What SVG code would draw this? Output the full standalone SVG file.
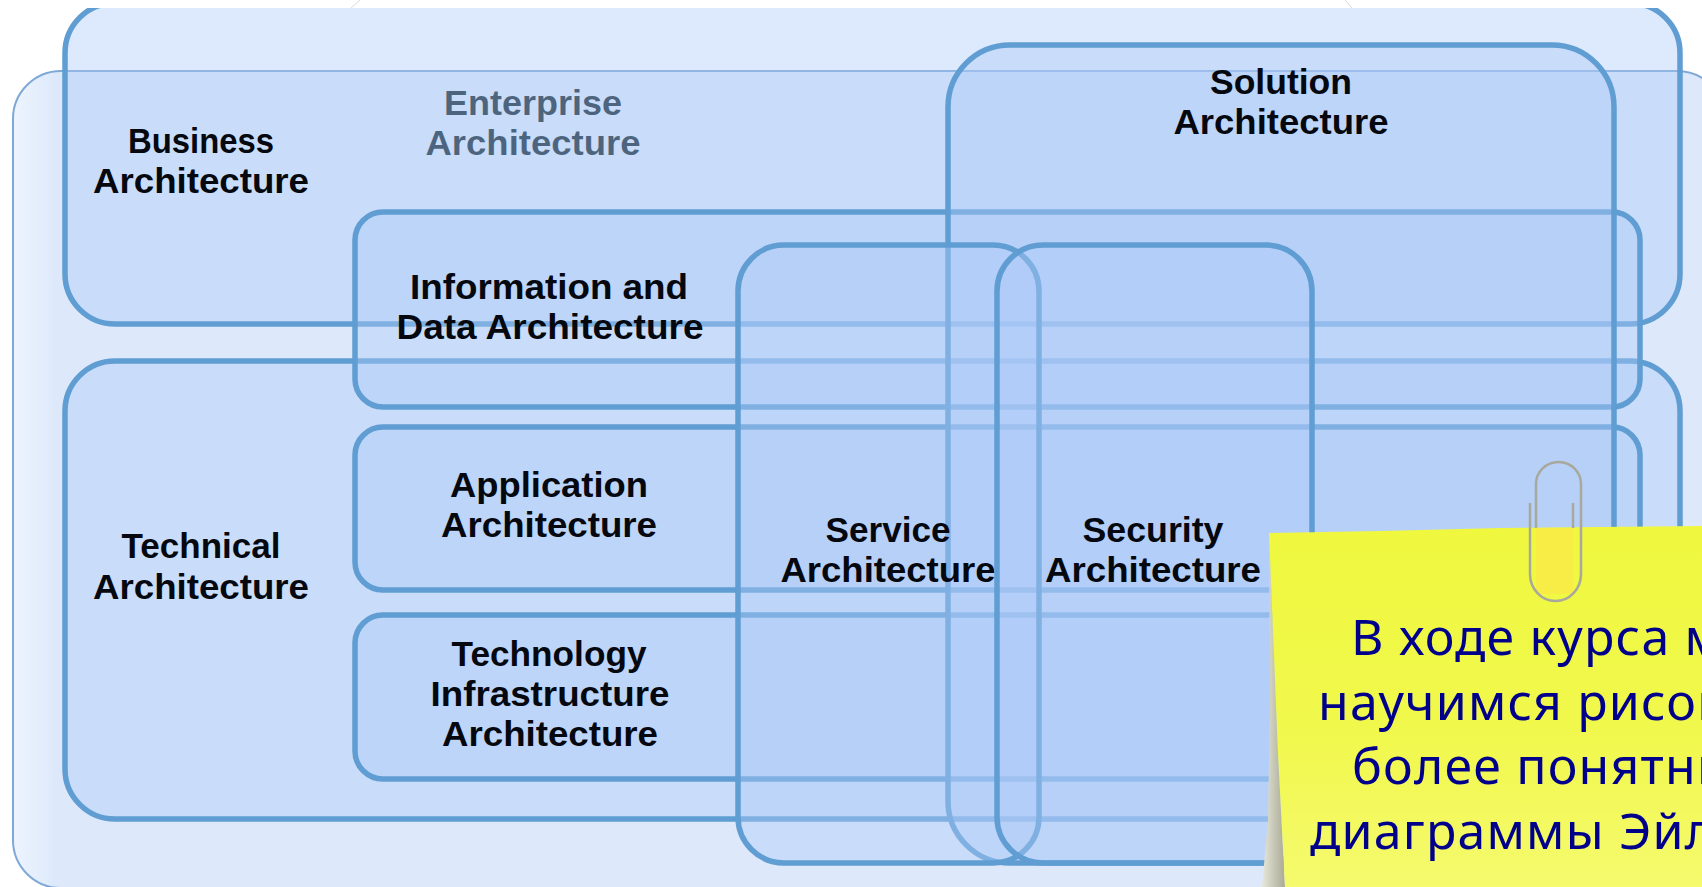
<svg xmlns="http://www.w3.org/2000/svg" width="1702" height="887" viewBox="0 0 1702 887">
<defs>
<style>
.b{fill:#aecbf8;fill-opacity:.42;stroke:#5f9dd2;stroke-width:5.500}
.t{font-family:"Liberation Sans",Arial,sans-serif;font-weight:700;font-size:35px;fill:#05080f;text-anchor:middle}
.note{font-family:"Noto Sans",sans-serif;font-size:50px;letter-spacing:1.200px;fill:#00008b}
.clip{fill:none;stroke:#a8a89c;stroke-width:2.500}
</style>
<linearGradient id="ent" x1="0" y1="0" x2="1" y2="0"><stop offset="0" stop-color="#edf4fe"/><stop offset=".025" stop-color="#dde9fb"/><stop offset="1" stop-color="#dde9fb"/></linearGradient>
<linearGradient id="yel" x1="0" y1="0" x2="0" y2="1"><stop offset="0" stop-color="#eff83e"/><stop offset=".6" stop-color="#f1f84e"/><stop offset="1" stop-color="#f5fa6e"/></linearGradient>
<linearGradient id="shade" x1="0" y1="0" x2="1" y2="0"><stop offset="0" stop-color="#e8e8da"/><stop offset="1" stop-color="#a9a995"/></linearGradient>
</defs>
<rect width="1702" height="887" fill="#fff"/>
<g id="enterprise">
<rect x="13" y="71" width="1712" height="817" rx="48" fill="url(#ent)" stroke="#7fa8d6" stroke-width="2"/>
<text class="t" x="533" y="115" textLength="178" lengthAdjust="spacingAndGlyphs" style="fill:#071a28">Enterprise</text>
<text class="t" x="533" y="155" textLength="215" lengthAdjust="spacingAndGlyphs" style="fill:#071a28">Architecture</text>
</g>
<g id="business">
<rect class="b" x="65" y="3" width="1615" height="321" rx="50"/>
<text class="t" x="201" y="153" textLength="146" lengthAdjust="spacingAndGlyphs">Business</text>
<text class="t" x="201" y="193" textLength="216" lengthAdjust="spacingAndGlyphs">Architecture</text>
</g>
<g id="technical">
<rect class="b" x="65" y="361" width="1615" height="458" rx="50"/>
<text class="t" x="201" y="558" textLength="159" lengthAdjust="spacingAndGlyphs">Technical</text>
<text class="t" x="201" y="599" textLength="216" lengthAdjust="spacingAndGlyphs">Architecture</text>
</g>
<g id="information">
<rect class="b" x="355" y="212" width="1285" height="195" rx="28"/>
<text class="t" x="549" y="299" textLength="278" lengthAdjust="spacingAndGlyphs">Information and</text>
<text class="t" x="550" y="339" textLength="307" lengthAdjust="spacingAndGlyphs">Data Architecture</text>
</g>
<g id="application">
<rect class="b" x="355" y="427" width="1285" height="163" rx="28"/>
<text class="t" x="549" y="497" textLength="198" lengthAdjust="spacingAndGlyphs">Application</text>
<text class="t" x="549" y="537" textLength="216" lengthAdjust="spacingAndGlyphs">Architecture</text>
</g>
<g id="technology">
<rect class="b" x="355" y="615" width="1285" height="164" rx="28"/>
<text class="t" x="549" y="666" textLength="195" lengthAdjust="spacingAndGlyphs">Technology</text>
<text class="t" x="550" y="706" textLength="239" lengthAdjust="spacingAndGlyphs">Infrastructure</text>
<text class="t" x="550" y="746" textLength="216" lengthAdjust="spacingAndGlyphs">Architecture</text>
</g>
<g id="solution">
<rect class="b" x="948" y="45" width="666" height="818" rx="62"/>
<text class="t" x="1281" y="94" textLength="142" lengthAdjust="spacingAndGlyphs">Solution</text>
<text class="t" x="1281" y="134" textLength="215" lengthAdjust="spacingAndGlyphs">Architecture</text>
</g>
<g id="service">
<rect class="b" x="738" y="245" width="301" height="618" rx="46"/>
<text class="t" x="888" y="542" textLength="125" lengthAdjust="spacingAndGlyphs">Service</text>
<text class="t" x="888" y="582" textLength="215" lengthAdjust="spacingAndGlyphs">Architecture</text>
</g>
<g id="security">
<rect class="b" x="997" y="245" width="315" height="618" rx="46"/>
<text class="t" x="1153" y="542" textLength="141" lengthAdjust="spacingAndGlyphs">Security</text>
<text class="t" x="1153" y="582" textLength="216" lengthAdjust="spacingAndGlyphs">Architecture</text>
</g>
<g id="connectors"/>
<rect id="top-mask" width="1702" height="8" fill="#fff"/>
<path d="M360,0L351,8M1345,0L1352,8" fill="none" stroke="#dcdcdc" stroke-width="1"/>
<g id="note">
<polygon points="1269,533 1278,753 1285,887 1262,887 1268,820 1270,700" fill="url(#shade)"/>
<polygon points="1269,533 1380,531 1500,528 1702,526 1702,887 1285,887 1278,753" fill="url(#yel)"/>
<rect x="1536" y="528" width="37" height="66" fill="#fbe64a" fill-opacity=".6"/>
<path class="clip" d="M1536,528V484a22.500,22 0 0 1 45,0V574a25.500,27 0 0 1 -51,0V503"/>
<path class="clip" d="M1573,503V528"/>
<text class="note" x="1351" y="655">В ходе курса мы</text>
<text class="note" x="1318" y="720">научимся рисовать</text>
<text class="note" x="1352" y="784">более понятные</text>
<text class="note" x="1310" y="849">диаграммы Эйлера</text>
</g>
</svg>
